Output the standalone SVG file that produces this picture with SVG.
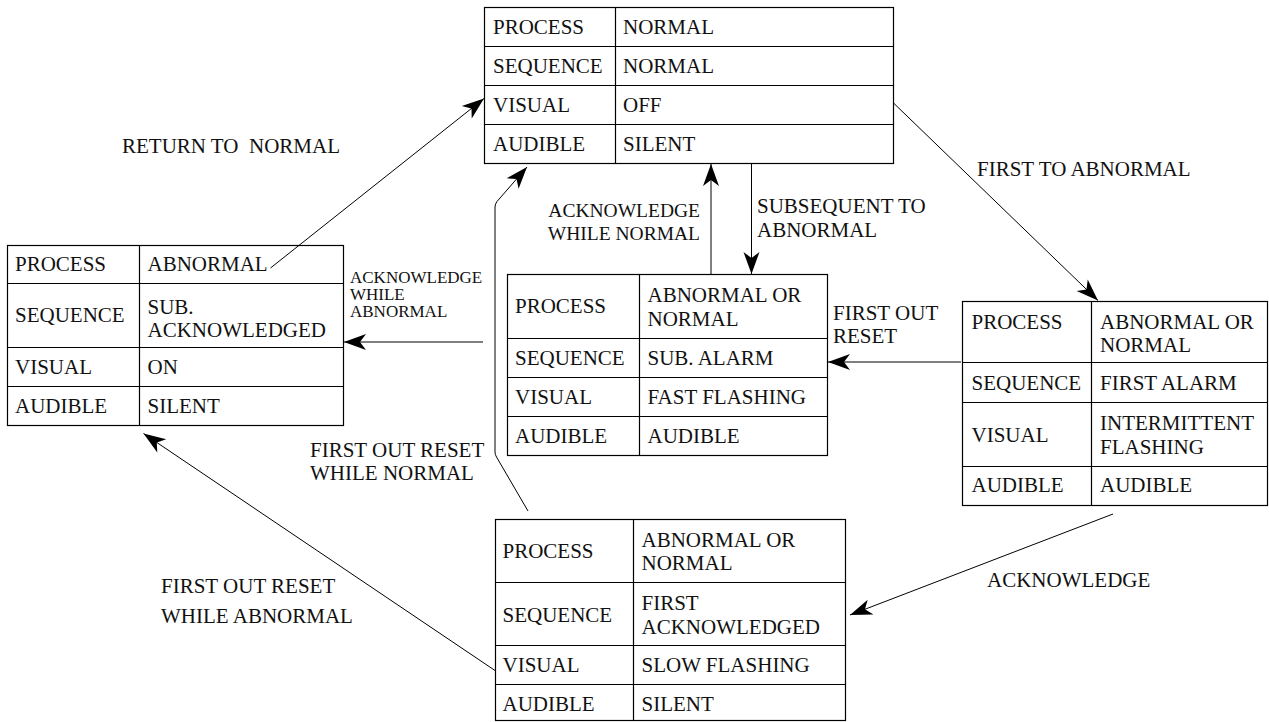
<svg xmlns="http://www.w3.org/2000/svg" width="1269" height="722" viewBox="0 0 1269 722">
  <style>
    text { font-family: "Liberation Serif", "Times New Roman", serif; font-size: 21px; fill: #111; white-space: pre; }
    .small { font-size: 17px; }
    .mid { font-size: 19.5px; }
    .cell { fill: #fff; stroke: #000; stroke-width: 1.2; }
    .grid { stroke: #000; stroke-width: 1.2; fill: none; }
    .conn { stroke: #000; stroke-width: 1; fill: none; marker-end: url(#head); }
  </style>
  <defs>
    <marker id="head" markerUnits="userSpaceOnUse" viewBox="-23 -9 24 18" refX="0" refY="0" markerWidth="24" markerHeight="18" orient="auto">
      <path d="M0,0 L-22,-8 L-16,0 L-22,8 Z" fill="#000"/>
    </marker>
  </defs>

  <rect width="1269" height="722" fill="#fff"/>

  <!-- state: normal -->
  <g id="state-normal">
    <rect class="cell" x="484.5" y="7.5" width="409" height="156"/>
    <path class="grid" d="M615.5,7.5V163.5M484.5,46.5H893.5M484.5,85.5H893.5M484.5,124.5H893.5"/>
    <text x="493" y="33.5">PROCESS</text><text x="623" y="33.5">NORMAL</text>
    <text x="493" y="72.5">SEQUENCE</text><text x="623" y="72.5">NORMAL</text>
    <text x="493" y="111.5">VISUAL</text><text x="623" y="111.5">OFF</text>
    <text x="493" y="150.5">AUDIBLE</text><text x="623" y="150.5">SILENT</text>
  </g>

  <!-- state: subsequent acknowledged -->
  <g id="state-sub-ack">
    <rect class="cell" x="7.5" y="245.5" width="336" height="180"/>
    <path class="grid" d="M139.5,245.5V425.5M7.5,283.5H343.5M7.5,347.5H343.5M7.5,386.5H343.5"/>
    <text x="15" y="271">PROCESS</text><text x="147.5" y="271">ABNORMAL</text>
    <text x="15" y="322">SEQUENCE</text><text x="147.5" y="313.5">SUB.</text><text x="147.5" y="336.5">ACKNOWLEDGED</text>
    <text x="15" y="373.5">VISUAL</text><text x="147.5" y="373.5">ON</text>
    <text x="15" y="412.5">AUDIBLE</text><text x="147.5" y="412.5">SILENT</text>
  </g>

  <!-- state: subsequent alarm -->
  <g id="state-sub-alarm">
    <rect class="cell" x="507.5" y="274.5" width="320" height="181"/>
    <path class="grid" d="M639.5,274.5V455.5M507.5,338.5H827.5M507.5,377.5H827.5M507.5,416.5H827.5"/>
    <text x="515" y="313">PROCESS</text><text x="647.5" y="301.5">ABNORMAL OR</text><text x="647.5" y="326">NORMAL</text>
    <text x="515" y="365">SEQUENCE</text><text x="647.5" y="365">SUB. ALARM</text>
    <text x="515" y="403.5">VISUAL</text><text x="647.5" y="403.5">FAST FLASHING</text>
    <text x="515" y="442.5">AUDIBLE</text><text x="647.5" y="442.5">AUDIBLE</text>
  </g>

  <!-- state: first alarm -->
  <g id="state-first-alarm">
    <rect class="cell" x="962.5" y="301.5" width="305" height="204"/>
    <path class="grid" d="M1091.5,301.5V505.5M962.5,362.5H1267.5M962.5,402.5H1267.5M962.5,466.5H1267.5"/>
    <text x="971.5" y="329">PROCESS</text><text x="1100" y="329">ABNORMAL OR</text><text x="1100" y="352">NORMAL</text>
    <text x="971.5" y="390">SEQUENCE</text><text x="1100" y="390">FIRST ALARM</text>
    <text x="971.5" y="441.5">VISUAL</text><text x="1100" y="429.5">INTERMITTENT</text><text x="1100" y="453.5">FLASHING</text>
    <text x="971.5" y="492">AUDIBLE</text><text x="1100" y="492">AUDIBLE</text>
  </g>

  <!-- state: first acknowledged -->
  <g id="state-first-ack">
    <rect class="cell" x="495.5" y="519.5" width="350" height="201"/>
    <path class="grid" d="M633.5,519.5V720.5M495.5,582.5H845.5M495.5,645.5H845.5M495.5,684.5H845.5"/>
    <text x="502.5" y="557.5">PROCESS</text><text x="641.5" y="546.5">ABNORMAL OR</text><text x="641.5" y="570">NORMAL</text>
    <text x="502.5" y="621.5">SEQUENCE</text><text x="641.5" y="610">FIRST</text><text x="641.5" y="633.5">ACKNOWLEDGED</text>
    <text x="502.5" y="671.5">VISUAL</text><text x="641.5" y="671.5">SLOW FLASHING</text>
    <text x="502.5" y="710.5">AUDIBLE</text><text x="641.5" y="710.5">SILENT</text>
  </g>

  <!-- transitions -->
  <g id="connectors">
    <path class="conn" d="M270.5,268 L484,98.5"/>
    <path class="conn" d="M711,274 L711,164"/>
    <path class="conn" d="M751.5,163.5 L751.5,274"/>
    <path class="conn" d="M893.5,103 L1098,300.5"/>
    <path class="conn" d="M961,362 L828,362"/>
    <path class="conn" d="M483,342 L344,342"/>
    <path class="conn" d="M1113,514 L850,615"/>
    <path class="conn" d="M495,670.5 L143.5,433.5"/>
    <path class="conn" d="M528,511 L496.5,457 Q495,454.5 495,452 L495,207 Q495,204 497,201.5 L527,167"/>
  </g>

  <!-- transition labels -->
  <g id="labels">
    <text x="122" y="153">RETURN TO  NORMAL</text>
    <text x="977" y="176">FIRST TO ABNORMAL</text>
    <text x="757" y="213">SUBSEQUENT TO</text>
    <text x="757" y="237">ABNORMAL</text>
    <text class="mid" x="700" y="216.5" text-anchor="end">ACKNOWLEDGE</text>
    <text class="mid" x="700" y="240" text-anchor="end">WHILE NORMAL</text>
    <text class="small" x="350" y="283">ACKNOWLEDGE</text>
    <text class="small" x="350" y="300">WHILE</text>
    <text class="small" x="350" y="317">ABNORMAL</text>
    <text x="833" y="320">FIRST OUT</text>
    <text x="833" y="343">RESET</text>
    <text x="310" y="456.5">FIRST OUT RESET</text>
    <text x="310" y="480">WHILE NORMAL</text>
    <text x="161" y="593">FIRST OUT RESET</text>
    <text x="161" y="623">WHILE ABNORMAL</text>
    <text x="987" y="586.5">ACKNOWLEDGE</text>
  </g>
</svg>
